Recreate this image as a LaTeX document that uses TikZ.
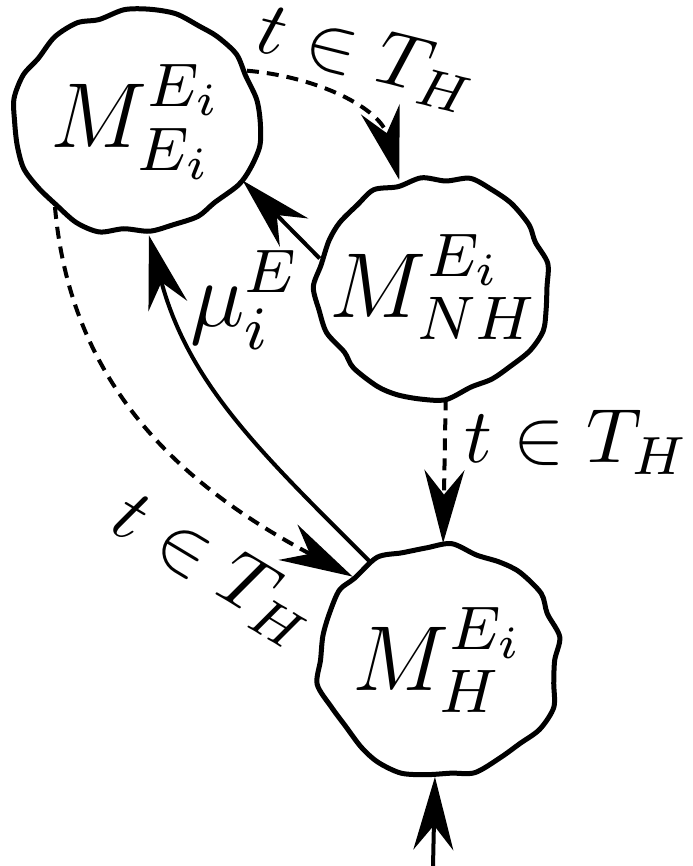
\documentclass[tikz,border=0pt]{standalone}
\usetikzlibrary{arrows.meta,shapes.geometric}
\newcommand\wobble[3]{\draw[cloudline, shift={(#1.center)}, yscale=#3]
  plot[smooth cycle, domain=0:348, samples=30, variable=\t] (\t:{#2*(1+0.045*rand)});}
\begin{document}
\pgfmathsetseed{11}
\begin{tikzpicture}[x=0.13pt,y=0.13pt, line width=0.52pt,
  cloud/.style={ellipse, inner sep=-4pt, font=\large},
  cloudline/.style={line width=0.65pt, line join=round},
  tip/.style={-{Stealth[length=9.5pt,width=5.2pt,inset=3.2pt]}},
  dsh/.style={dash pattern=on 1.56pt off 1.04pt},
  lbl/.style={inner sep=0pt, font=\normalsize}]
\useasboundingbox (0,0) rectangle (692,866);
\node[cloud, minimum width=31.5pt, minimum height=29.1pt] (A) at (137,744) {$M^{E_i}_{E_i}$};
\node[cloud, minimum width=30.2pt, minimum height=28.6pt] (B) at (434,579) {$M^{E_i}_{NH}$};
\node[cloud, minimum width=31.5pt, minimum height=29.9pt] (C) at (439,206) {$M^{E_i}_{H}$};
\wobble{A}{121}{0.925}
\wobble{B}{116}{0.95}
\wobble{C}{121}{0.95}
\coordinate (bot) at (433,0);
\draw[tip,dsh] (A.25) to[out=-5,in=105] (B.108);
\draw[tip] (B.166) -- (A.-29);
\draw[tip,dsh] (A.-134) to[out=-85,in=152] (C.136);
\draw[tip] (C.125) to[out=135,in=-75] (A.-84);
\draw[tip,dsh] (B.-84) -- (C.88);
\draw[tip] (bot) -- (C.-92);
\node[lbl, rotate=-14] (l1) at (368,808) {$t\in T_H$};
\node[lbl, font=\large] (l2) at (245,566) {$\mu_i^E$};
\node[lbl, rotate=-31] (l3) at (215,296) {$t\in T_H$};
\node[lbl] (l4) at (577,424) {$t\in T_H$};
\end{tikzpicture}
\end{document}
